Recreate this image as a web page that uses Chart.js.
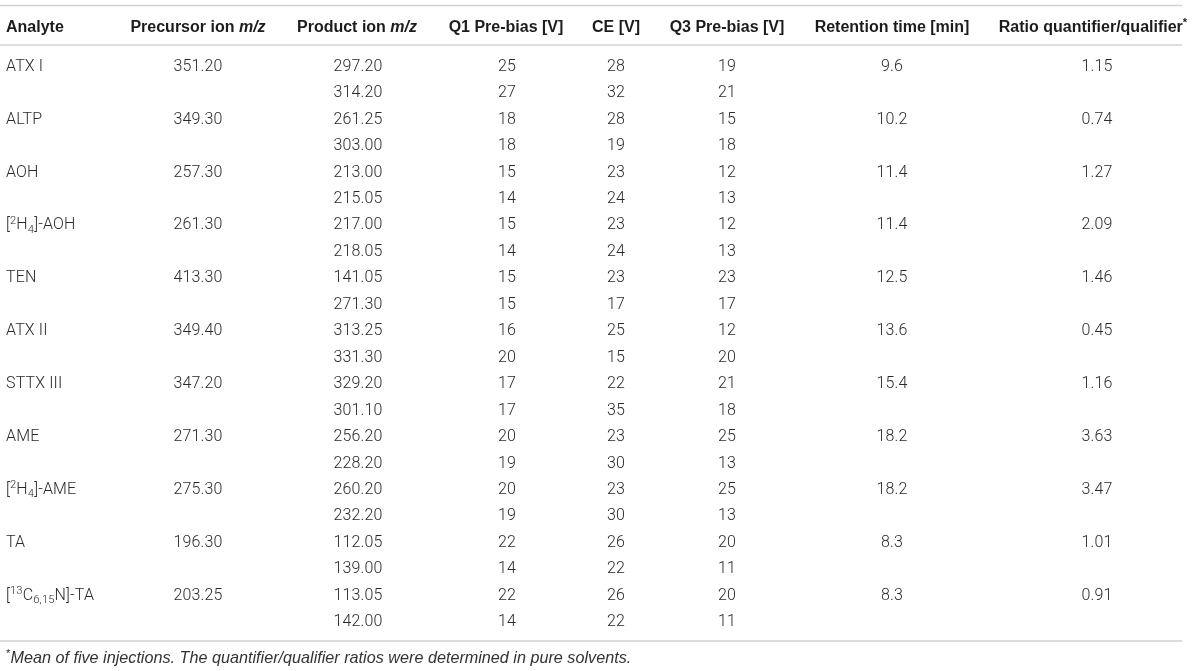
<!DOCTYPE html>
<html>
<head>
<meta charset="utf-8">
<script src="https://cdn.jsdelivr.net/npm/chart.js@4/dist/chart.umd.min.js"></script>
<style>
  html,body{margin:0;padding:0;background:#fff;}
  #wrap{width:1200px;height:671px;}
</style>
</head>
<body>
<div id="wrap"><canvas id="c" width="1200" height="671"></canvas></div>
<script>
// ---------------- DATA ----------------
const headers = ['Analyte', 'Precursor ion ~{m/z}', 'Product ion ~{m/z}', 'Q1 Pre-bias [V]', 'CE [V]', 'Q3 Pre-bias [V]', 'Retention time [min]', 'Ratio quantifier/qualifier^{*}'];
const analytes = ['ATX I', 'ALTP', 'AOH', '[^{2}H_{4}]-AOH', 'TEN', 'ATX II', 'STTX III', 'AME', '[^{2}H_{4}]-AME', 'TA', '[^{13}C_{6,15}N]-TA'];
const precursorIon = ['351.20', '349.30', '257.30', '261.30', '413.30', '349.40', '347.20', '271.30', '275.30', '196.30', '203.25'];
const productIon = [['297.20','314.20'],['261.25','303.00'],['213.00','215.05'],['217.00','218.05'],['141.05','271.30'],['313.25','331.30'],['329.20','301.10'],['256.20','228.20'],['260.20','232.20'],['112.05','139.00'],['113.05','142.00']];
const q1PreBias = [[25,27],[18,18],[15,14],[15,14],[15,15],[16,20],[17,17],[20,19],[20,19],[22,14],[22,14]];
const collisionEnergy = [[28,32],[28,19],[23,24],[23,24],[23,17],[25,15],[22,35],[23,30],[23,30],[26,22],[26,22]];
const q3PreBias = [[19,21],[15,18],[12,13],[12,13],[23,17],[12,20],[21,18],[25,13],[25,13],[20,11],[20,11]];
const retentionTime = ['9.6', '10.2', '11.4', '11.4', '12.5', '13.6', '15.4', '18.2', '18.2', '8.3', '8.3'];
const ratioQuantQual = ['1.15', '0.74', '1.27', '2.09', '1.46', '0.45', '1.16', '3.63', '3.47', '1.01', '0.91'];
const footnote = '^{*}~{Mean of five injections. The quantifier/qualifier ratios were determined in pure solvents.}';

// ---------------- LAYOUT (positions / styles) ----------------
const HEADER_X = [6, 198, 357, 506, 616, 727, 892, 1093];
const VALUE_X  = [6, 198, 358, 507, 616, 727, 892, 1097];
const ALIGN    = ['left','center','center','center','center','center','center','center'];
const ROW_PX0 = 65, ROW_STEP = 26.45, CANVAS_H = 671, CANVAS_W = 1200;
const HEADER_ROW = (26 - ROW_PX0) / ROW_STEP;
const TOP_RULE = (5.5 - ROW_PX0) / ROW_STEP;
const HEAD_RULE = (45 - ROW_PX0) / ROW_STEP;
const BOTTOM_RULE = (641 - ROW_PX0) / ROW_STEP;
const FOOT_ROW = (657 - ROW_PX0) / ROW_STEP;
const RULE_X0 = 0, RULE_X1 = 1182;
const BODY_FONT = {family:'Roboto, "Liberation Sans", sans-serif', weight:'300', size:16, color:'#2a2a2a', spacing:0.15};
const HEAD_FONT = {family:'"Liberation Sans", Arial, sans-serif', weight:'bold', size:16, color:'#1c1c1c', spacing:0};
const FOOT_FONT = {family:'"Liberation Sans", Arial, sans-serif', weight:'normal', size:16.2, color:'#333333', spacing:0};
const RULE_COLOR = '#d2d2d2';

// ---------------- build datasets from data ----------------
function cellsForColumn(col) {
  const pts = [];
  analytes.forEach((a, i) => {
    const r0 = 2 * i, r1 = 2 * i + 1;
    const push = (r, t) => pts.push({x: VALUE_X[col], y: r, t: String(t)});
    switch (col) {
      case 0: push(r0, a); break;
      case 1: push(r0, precursorIon[i]); break;
      case 2: push(r0, productIon[i][0]); push(r1, productIon[i][1]); break;
      case 3: push(r0, q1PreBias[i][0]); push(r1, q1PreBias[i][1]); break;
      case 4: push(r0, collisionEnergy[i][0]); push(r1, collisionEnergy[i][1]); break;
      case 5: push(r0, q3PreBias[i][0]); push(r1, q3PreBias[i][1]); break;
      case 6: push(r0, retentionTime[i]); break;
      case 7: push(r0, ratioQuantQual[i]); break;
    }
  });
  return pts;
}
const datasets = headers.map((h, c) => ({
  label: h, data: cellsForColumn(c), align: ALIGN[c], role: 'body',
  pointRadius: 0, pointHoverRadius: 0, showLine: false
}));
datasets.push({
  label: 'header', role: 'head',
  data: headers.map((h, c) => ({x: HEADER_X[c], y: HEADER_ROW, t: h, align: ALIGN[c]})),
  pointRadius: 0, pointHoverRadius: 0, showLine: false
});
datasets.push({
  label: 'footnote', role: 'foot',
  data: [{x: 6, y: FOOT_ROW, t: footnote, align: 'left'}],
  pointRadius: 0, pointHoverRadius: 0, showLine: false
});

// ---------------- rich text ----------------
function parseRich(str) {
  const out = [];
  const re = /(\^\{[^}]*\}|_\{[^}]*\}|~\{[^}]*\})/g;
  let last = 0, m;
  while ((m = re.exec(str)) !== null) {
    if (m.index > last) out.push({text: str.slice(last, m.index), kind: 'n'});
    const k = m[0][0];
    out.push({text: m[0].slice(2, -1), kind: k === '^' ? 'sup' : k === '_' ? 'sub' : 'it'});
    last = re.lastIndex;
  }
  if (last < str.length) out.push({text: str.slice(last), kind: 'n'});
  return out;
}
function fontOf(base, kind) {
  const size = (kind === 'sup' || kind === 'sub') ? base.size * 0.7 : base.size;
  const style = (kind === 'it' || base.italic) ? 'italic ' : '';
  return style + base.weight + ' ' + size.toFixed(2) + 'px ' + base.family;
}
function drawRich(ctx, str, x, yc, align, base) {
  const parts = parseRich(str);
  ctx.letterSpacing = (base.spacing || 0) + 'px';
  let total = 0;
  parts.forEach(p => { ctx.font = fontOf(base, p.kind); p.w = ctx.measureText(p.text).width; total += p.w; });
  let cx = align === 'center' ? x - total / 2 : x;
  const baseY = yc + base.size * 0.36;
  ctx.fillStyle = base.color;
  ctx.textBaseline = 'alphabetic';
  ctx.textAlign = 'left';
  parts.forEach(p => {
    ctx.font = fontOf(base, p.kind);
    let dy = 0;
    if (p.kind === 'sup') dy = -base.size * 0.36;
    if (p.kind === 'sub') dy = base.size * 0.2;
    ctx.fillText(p.text, cx, baseY + dy);
    cx += p.w;
  });
  ctx.letterSpacing = '0px';
}

const tablePlugin = {
  id: 'tableCells',
  beforeDatasetsDraw(chart) {
    const ctx = chart.ctx, xs = chart.scales.x, ys = chart.scales.y;
    ctx.save();
    ctx.strokeStyle = RULE_COLOR;
    ctx.lineWidth = 1.3;
    [TOP_RULE, HEAD_RULE, BOTTOM_RULE].forEach(v => {
      const py = ys.getPixelForValue(v);
      ctx.beginPath();
      ctx.moveTo(xs.getPixelForValue(RULE_X0), py);
      ctx.lineTo(xs.getPixelForValue(RULE_X1), py);
      ctx.stroke();
    });
    ctx.restore();
  },
  afterDatasetsDraw(chart) {
    const ctx = chart.ctx;
    ctx.save();
    chart.data.datasets.forEach((ds, di) => {
      const meta = chart.getDatasetMeta(di);
      const base = ds.role === 'head' ? HEAD_FONT : ds.role === 'foot' ? FOOT_FONT : BODY_FONT;
      meta.data.forEach((el, i) => {
        const pt = ds.data[i];
        drawRich(ctx, pt.t, el.x, el.y, pt.align || ds.align, base);
      });
    });
    ctx.restore();
  }
};

new Chart(document.getElementById('c'), {
  type: 'scatter',
  data: {datasets},
  options: {
    responsive: false,
    devicePixelRatio: 1,
    animation: false,
    events: [],
    layout: {padding: 0},
    plugins: {legend: {display: false}, tooltip: {enabled: false}},
    scales: {
      x: {type: 'linear', display: false, min: 0, max: CANVAS_W},
      y: {type: 'linear', display: false, reverse: true,
          min: -ROW_PX0 / ROW_STEP, max: (CANVAS_H - ROW_PX0) / ROW_STEP}
    }
  },
  plugins: [tablePlugin]
});
</script>
</body>
</html>
